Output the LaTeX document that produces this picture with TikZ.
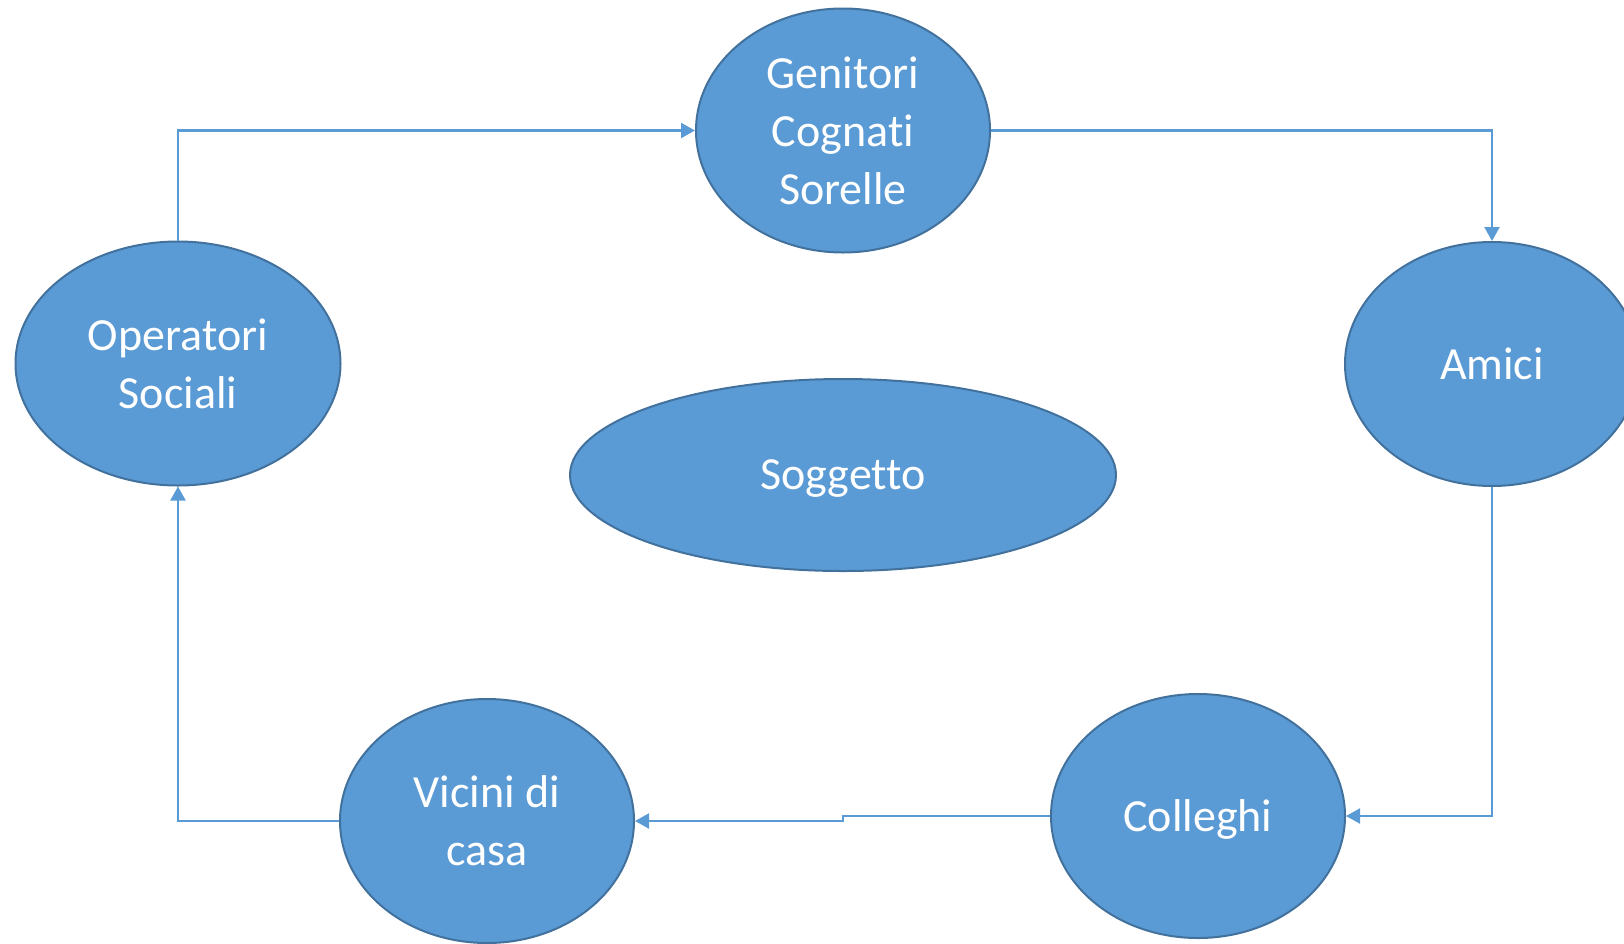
\documentclass[tikz,border=0pt]{standalone}
\usepackage{fontspec}
\setmainfont[Ligatures={NoCommon}]{Carlito}
\usetikzlibrary{shapes.geometric,arrows.meta}
\definecolor{fillblue}{HTML}{5B9BD5}
\definecolor{edgeblue}{HTML}{41719C}
\begin{document}
\begin{tikzpicture}[x=1pt,y=-1pt,
  bubble/.style={ellipse, draw=edgeblue, line width=2pt, fill=fillblue, text=white,
    inner sep=0pt, align=center, font=\fontsize{46}{58}\selectfont},
  link/.style={draw=fillblue, line width=2.2pt, -{Triangle[length=14pt,width=15pt]}}]
\useasboundingbox (0,0) rectangle (1624,943);
\node[bubble, minimum width=294pt, minimum height=244pt] (gen) at (843,130.5) {Genitori\\Cognati\\Sorelle};
\node[bubble, minimum width=325pt, minimum height=244pt] (op) at (178,363.5) {Operatori\\Sociali};
\node[bubble, minimum width=294pt, minimum height=244pt] (am) at (1492,364) {Amici};
\node[bubble, minimum width=546pt, minimum height=192pt, text depth=0pt] (sog) at (843,475) {Soggetto};
\node[bubble, minimum width=294pt, minimum height=244pt] (vic) at (487,821) {Vicini di\\casa};
\node[bubble, minimum width=294pt, minimum height=244pt, text depth=0pt] (col) at (1198,816) {Colleghi};
\coordinate (step1) at (843,816);
\coordinate (step2) at (843,821);
\draw[link] (op.north) |- (gen.west);
\draw[link] (gen.east) -| (am.north);
\draw[link] (am.south) |- (col.east);
\draw[link] (col.west) -- (step1) -- (step2) -- (vic.east);
\draw[link] (vic.west) -| (op.south);
\end{tikzpicture}
\end{document}
